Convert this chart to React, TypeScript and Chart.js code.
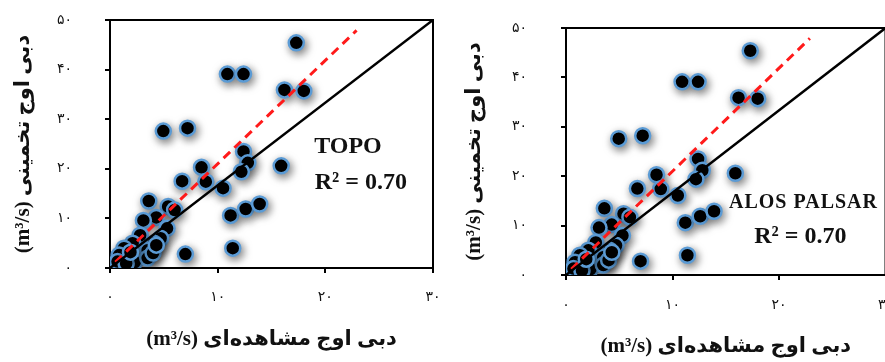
import React, { useEffect, useRef } from "react";
import { Chart, registerables } from "chart.js";

Chart.register(...registerables);

// ---- data ----
const observed = [
  17.3, 10.9, 12.4, 16.2, 18.0, 4.95, 7.2, 12.4, 12.8, 12.2, 15.9, 8.5, 8.9, 6.7, 10.5,
  11.2, 12.6, 13.9, 11.4, 7.0, 3.6, 5.4, 6.0, 4.3, 3.1, 5.3, 2.8, 4.7, 2.1, 4.1, 1.3,
  3.5, 0.85, 2.3, 3.5, 0.7, 1.5, 4.0, 1.9, 4.3,
];
const estimated = [
  45.4, 39.1, 39.1, 35.9, 35.7, 27.6, 28.2, 23.5, 21.2, 19.4, 20.6, 20.3, 17.4, 17.5, 16.1,
  10.6, 11.9, 12.9, 4.0, 2.8, 13.5, 12.4, 11.7, 10.2, 9.6, 8.0, 6.6, 6.0, 5.0, 5.0, 4.0,
  3.6, 2.6, 1.2, 2.0, 1.3, 0.9, 3.0, 3.2, 4.6,
];
const refLineX = [0, 30];
const refLineY = [0, 50];
const fitLineX = [0.5, 22.9];
const fitLineY = [1.2, 47.9];
const xTickValues = [0, 10, 20, 30];
const yTickValues = [0, 10, 20, 30, 40, 50];
const panelNames = ["TOPO", "ALOS PALSAR"];
const r2Text = "R² = 0.70";
const xTitle = "(m³/s) دبی اوج مشاهده‌ای";
const yTitle = "(m³/s) دبی اوج تخمینی";

const persianDigits = "۰۱۲۳۴۵۶۷۸۹";
const toPersian = (v: number | string) =>
  String(v).replace(/\d/g, (d) => persianDigits[Number(d)]);

const serif = '"Liberation Serif", "DejaVu Sans", serif';
const digitFont = '"DejaVu Sans", sans-serif';

const framePlugin = {
  id: "frame",
  beforeDatasetsDraw(chart: any) {
    const { ctx, chartArea: a } = chart;
    ctx.save();
    ctx.strokeStyle = "#000";
    ctx.lineWidth = 2;
    ctx.strokeRect(a.left, a.top, a.right - a.left, a.bottom - a.top);
    ctx.restore();
  },
};

const shadowPlugin = {
  id: "shadow",
  beforeDatasetDraw(chart: any, args: any) {
    if (args.meta.type !== "scatter") return;
    const ctx = chart.ctx;
    ctx.save();
    ctx.shadowColor = "rgba(0,0,0,0.5)";
    ctx.shadowBlur = 8;
    ctx.shadowOffsetX = 2;
    ctx.shadowOffsetY = 3;
  },
  afterDatasetDraw(chart: any, args: any) {
    if (args.meta.type !== "scatter") return;
    chart.ctx.restore();
  },
};

type PanelSpec = {
  left: number;
  width: number;
  top: number;
  right: number;
  yAxisWidth: number;
  xAxisHeight: number;
  yTickPad: number;
  xTickPad: number;
  yTitleTop: number;
  xTitleBottom: number;
  name: string;
  nameSize: number;
  nameSpacing: string;
  namePos: [number, number];
  r2Pos: [number, number];
};

const specs: PanelSpec[] = [
  {
    left: 0, width: 450, top: 20, right: 17, yAxisWidth: 110, xAxisHeight: 94,
    yTickPad: 33, xTickPad: 16, yTitleTop: 11, xTitleBottom: 10,
    name: panelNames[0], nameSize: 24, nameSpacing: "0px",
    namePos: [22.1, 24.4], r2Pos: [23.3, 17.1],
  },
  {
    left: 440, width: 470, top: 28, right: 24.5, yAxisWidth: 126, xAxisHeight: 87,
    yTickPad: 34, xTickPad: 17, yTitleTop: 22, xTitleBottom: 3,
    name: panelNames[1], nameSize: 20, nameSpacing: "1px",
    namePos: [22.3, 14.6], r2Pos: [22.0, 7.7],
  },
];

function Panel({ spec }: { spec: PanelSpec }) {
  const ref = useRef<HTMLCanvasElement>(null);
  useEffect(() => {
    const textPlugin = {
      id: "labels",
      afterDatasetsDraw(chart: any) {
        const { ctx, scales } = chart;
        ctx.save();
        ctx.fillStyle = "#111";
        ctx.textAlign = "center";
        ctx.textBaseline = "middle";
        ctx.font = `bold ${spec.nameSize}px ${serif}`;
        (ctx as any).letterSpacing = spec.nameSpacing;
        ctx.fillText(
          spec.name,
          scales.x.getPixelForValue(spec.namePos[0]),
          scales.y.getPixelForValue(spec.namePos[1])
        );
        (ctx as any).letterSpacing = "0px";
        ctx.font = `bold 24px ${serif}`;
        ctx.fillText(
          r2Text,
          scales.x.getPixelForValue(spec.r2Pos[0]),
          scales.y.getPixelForValue(spec.r2Pos[1])
        );
        ctx.restore();
      },
    };

    const chart = new Chart(ref.current as HTMLCanvasElement, {
      type: "scatter",
      data: {
        datasets: [
          {
            type: "line",
            data: refLineX.map((x, i) => ({ x, y: refLineY[i] })),
            borderColor: "#000",
            borderWidth: 2.5,
            pointRadius: 0,
            fill: false,
            order: 0,
          } as any,
          {
            type: "line",
            data: fitLineX.map((x, i) => ({ x, y: fitLineY[i] })),
            borderColor: "#ff1a1a",
            borderWidth: 3,
            borderDash: [9, 6],
            pointRadius: 0,
            fill: false,
            order: 0,
          } as any,
          {
            type: "scatter",
            data: observed.map((x, i) => ({ x, y: estimated[i] })),
            backgroundColor: "#000",
            borderColor: "#5b9bd5",
            borderWidth: 2.5,
            pointRadius: 7.5,
            order: 1,
          } as any,
        ],
      },
      options: {
        animation: false,
        responsive: false,
        events: [],
        layout: { padding: { left: 0, top: spec.top, right: spec.right, bottom: 0 } },
        plugins: { legend: { display: false }, tooltip: { enabled: false } },
        scales: {
          x: {
            type: "linear",
            min: xTickValues[0],
            max: xTickValues[xTickValues.length - 1],
            afterBuildTicks: (s: any) => {
              s.ticks = xTickValues.map((value) => ({ value }));
            },
            ticks: {
              callback: (v: any) => toPersian(v),
              padding: spec.xTickPad,
              color: "#111",
              maxRotation: 0,
              font: { family: digitFont, size: 14 },
            },
            grid: {
              display: true,
              drawOnChartArea: false,
              drawTicks: true,
              tickLength: 5,
              color: "#000",
              lineWidth: 2,
            },
            border: { display: true, color: "#000", width: 2 },
            title: {
              display: true,
              text: xTitle,
              color: "#111",
              font: { family: serif, size: 21, weight: "bold" },
              padding: { top: 0, bottom: spec.xTitleBottom },
            },
            afterFit: (s: any) => {
              s.height = spec.xAxisHeight;
              s.paddingLeft = 0;
              s.paddingRight = 0;
            },
          },
          y: {
            type: "linear",
            min: yTickValues[0],
            max: yTickValues[yTickValues.length - 1],
            afterBuildTicks: (s: any) => {
              s.ticks = yTickValues.map((value) => ({ value }));
            },
            ticks: {
              callback: (v: any) => toPersian(v),
              padding: spec.yTickPad,
              color: "#111",
              font: { family: digitFont, size: 14 },
            },
            grid: {
              display: true,
              drawOnChartArea: false,
              drawTicks: true,
              tickLength: 5,
              color: "#000",
              lineWidth: 2,
            },
            border: { display: true, color: "#000", width: 2 },
            title: {
              display: true,
              text: yTitle,
              color: "#111",
              font: { family: serif, size: 21, weight: "bold" },
              padding: { top: spec.yTitleTop, bottom: 0 },
            },
            afterFit: (s: any) => {
              s.width = spec.yAxisWidth;
              s.paddingTop = 0;
              s.paddingBottom = 0;
            },
          },
        },
      } as any,
      plugins: [framePlugin, shadowPlugin, textPlugin],
    });
    return () => chart.destroy();
  }, [spec]);

  return (
    <canvas
      ref={ref}
      width={spec.width}
      height={362}
      style={{ position: "absolute", left: spec.left, top: 0, width: spec.width, height: 362 }}
    />
  );
}

export default function App() {
  return (
    <div
      style={{
        position: "fixed",
        left: 0,
        top: 0,
        width: 885,
        height: 362,
        overflow: "hidden",
        background: "#fff",
      }}
    >
      {specs.map((s) => (
        <Panel key={s.name} spec={s} />
      ))}
    </div>
  );
}
